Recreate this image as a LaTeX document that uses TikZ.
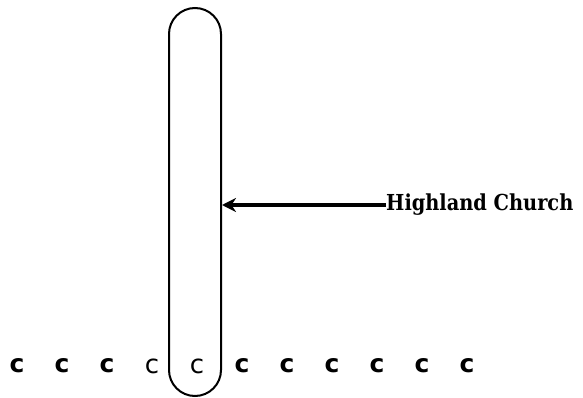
\documentclass[tikz,border=0pt]{standalone}
\usepackage{fontspec}
\newfontfamily\heavyfont[FakeStretch=0.88]{DejaVu Serif}
\newfontfamily\letterfont{DejaVu Sans}
\usepackage{tikz}
\usetikzlibrary{arrows.meta,positioning}

\begin{document}
\begin{tikzpicture}[x=1pt,y=-1pt,
    letter/.style={font=\letterfont\fontsize{25}{27}\selectfont\bfseries, inner sep=0pt},
    thinletter/.style={letter, font=\letterfont\fontsize{26}{28}\selectfont},
    capsule/.style={draw, line width=2pt, rounded corners=26pt,
      minimum width=52pt, minimum height=388pt, inner sep=0pt},
    label/.style={font=\heavyfont\fontsize{22}{24}\selectfont\bfseries, inner sep=0pt, anchor=west},
    >=Stealth
  ]
    \useasboundingbox (0,0) rectangle (583,398);

    % the row of c's (the two by the capsule are printed lighter)
    \foreach \i in {0,...,10}{
      \ifnum\i=3 \def\sty{thinletter}\else\ifnum\i=4 \def\sty{thinletter}\else\def\sty{letter}\fi\fi
      \node[\sty] (c\i) at (17+45*\i,366) {c};
    }

    % the church capsule
    \node[capsule] (church) at (195,202) {};

    % label and arrow
    \node[label] (name) at (386,205) {Highland Church};
    \draw[-{Stealth[length=14pt,width=14pt]},line width=3.5pt] (name.west) -- (church.east |- name.west);
\end{tikzpicture}
\end{document}
